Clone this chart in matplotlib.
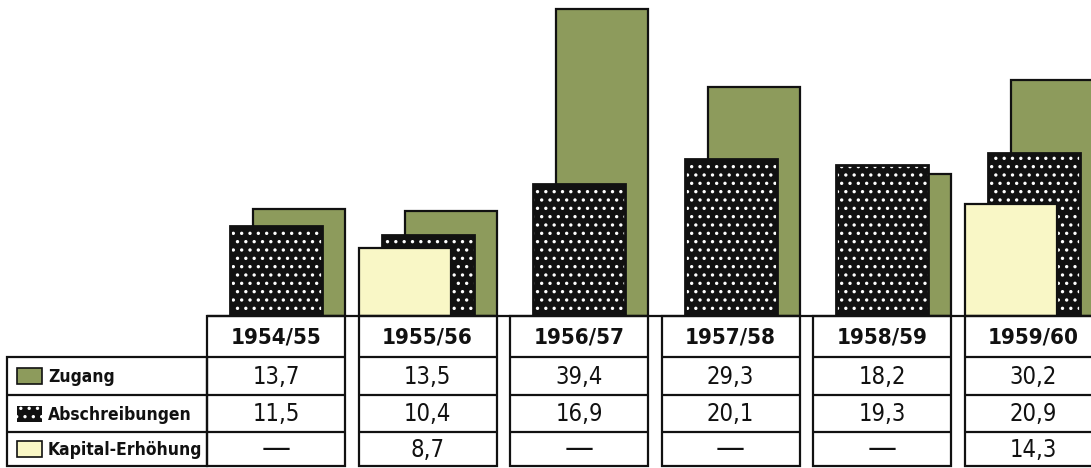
import matplotlib
matplotlib.use("Agg")
import matplotlib.pyplot as plt
from matplotlib.patches import Rectangle

# ---- data ----
years = ['1954/55', '1955/56', '1956/57', '1957/58', '1958/59', '1959/60']
zugang = [13.7, 13.5, 39.4, 29.3, 18.2, 30.2]
abschreibungen = [11.5, 10.4, 16.9, 20.1, 19.3, 20.9]
kapital = [None, 8.7, None, None, None, 14.3]
series_labels = ['Zugang', 'Abschreibungen', 'Kapital-Erhöhung']

# ---- style ----
GREEN = '#8d9b5c'
YELLOW = '#f9f7c6'
BLACK = '#111111'
plt.rcParams['hatch.linewidth'] = 1.2
FAM = ['DejaVu Sans']
STRETCH = 'condensed'

W, H = 1091, 468
fig = plt.figure(figsize=(W / 100, H / 100), dpi=100)
fig.patch.set_facecolor('white')

BASE = 316          # baseline pixel row
PX_PER_UNIT = 7.8
X0 = 207            # left of first group
STEP = 151.5        # group spacing in px
BW = 92             # bar width px
OFF = 23            # offset between overlapping bars px
BOXW = 138

axb = fig.add_axes([0, (H - BASE) / H, 1, BASE / H])
axb.set_xlim(0, W)
axb.set_ylim(0, BASE / PX_PER_UNIT)
axb.axis('off')

lefts = [X0 + STEP * i for i in range(len(years))]

axb.bar([l + 2 * OFF for l in lefts], zugang, width=BW, align='edge',
        color=GREEN, edgecolor=BLACK, linewidth=1.6, zorder=1)
axb.bar([l + OFF for l in lefts], abschreibungen, width=BW, align='edge',
        color=BLACK, edgecolor='white', hatch='..', linewidth=0, zorder=2)
axb.bar([l + OFF for l in lefts], abschreibungen, width=BW, align='edge',
        color='none', edgecolor=BLACK, linewidth=2.0, zorder=3)
kx = [l for l, v in zip(lefts, kapital) if v is not None]
kv = [v for v in kapital if v is not None]
axb.bar(kx, kv, width=BW, align='edge', color=YELLOW, edgecolor=BLACK,
        linewidth=1.6, zorder=4)

axt = fig.add_axes([0, 0, 1, 1])
axt.set_xlim(0, W)
axt.set_ylim(H, 0)
axt.axis('off')

LW = 1.6
rows = [BASE, 357, 395, 432, 466]

axt.plot([X0, W], [BASE, BASE], color=BLACK, lw=LW, solid_capstyle='butt')

for i, yr in enumerate(years):
    x0 = lefts[i]
    axt.add_patch(Rectangle((x0, rows[0]), BOXW, rows[-1] - rows[0],
                            fill=False, edgecolor=BLACK, lw=LW))
    for r in rows[1:-1]:
        axt.plot([x0, x0 + BOXW], [r, r], color=BLACK, lw=LW, solid_capstyle='butt')
    cx = x0 + BOXW / 2
    axt.text(cx, (rows[0] + rows[1]) / 2 + 1, yr, ha='center', va='center',
             fontsize=16, fontweight='bold', family=FAM, fontstretch=STRETCH,
             color=BLACK)
    for j, vals in enumerate([zugang, abschreibungen, kapital]):
        v = vals[i]
        yc = (rows[j + 1] + rows[j + 2]) / 2
        if v is None:
            axt.text(cx, yc, '\u2014', ha='center', va='center',
                     fontsize=21, family=FAM, color=BLACK)
        else:
            axt.text(cx, yc + 1, f'{v:.1f}'.replace('.', ','), ha='center',
                     va='center', fontsize=17, family=FAM, fontstretch=STRETCH,
                     color=BLACK)

LX0 = 7
axt.add_patch(Rectangle((LX0, rows[1]), X0 - LX0, rows[-1] - rows[1],
                        fill=False, edgecolor=BLACK, lw=LW))
for r in rows[2:-1]:
    axt.plot([LX0, X0], [r, r], color=BLACK, lw=LW, solid_capstyle='butt')

sw_styles = [dict(facecolor=GREEN, edgecolor=BLACK, lw=1.2),
             dict(facecolor=BLACK, edgecolor='white', hatch='..', lw=0),
             dict(facecolor=YELLOW, edgecolor=BLACK, lw=1.2)]
for j, lab in enumerate(series_labels):
    yc = (rows[j + 1] + rows[j + 2]) / 2
    axt.add_patch(Rectangle((17, yc - 8), 25, 16, **sw_styles[j]))
    axt.text(48, yc + 1, lab, ha='left', va='center', fontsize=12.5,
             fontweight='bold', family=FAM, fontstretch=STRETCH, color=BLACK)

fig.savefig('out.png', dpi=100, facecolor='white')
